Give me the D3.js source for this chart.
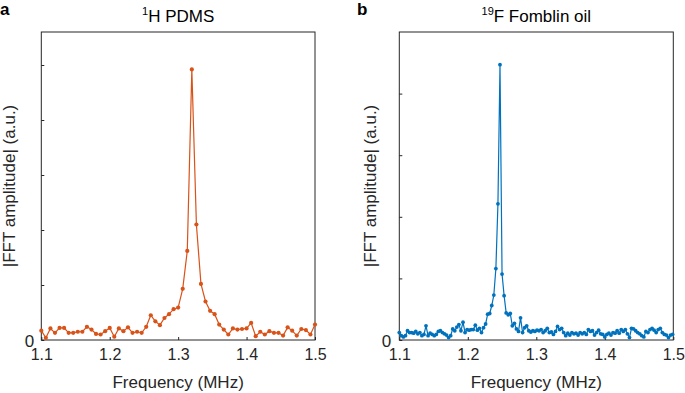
<!DOCTYPE html>
<html lang="en">
<head>
<meta charset="UTF-8">
<title>FFT spectra</title>
<script src="https://d3js.org/d3.v7.min.js"></script>
<style>
  body { margin: 0; background: #fff; }
  svg { display: block; font-family: "Liberation Sans", Arial, Helvetica, sans-serif; }
  .tick text { fill: #262626; }
  .tick line { stroke: #262626; }
</style>
</head>
<body>
<svg id="chart" width="685" height="393"></svg>
<script>

// 1H PDMS, 1.1 - 1.5 MHz
const freqStartH = 1.1;
const freqStepH = 0.4 / 60;
const ampH = [0.17, 0.04, 0.21, 0.13, 0.22, 0.22, 0.13, 0.13, 0.15, 0.15,
              0.24, 0.19, 0.11, 0.10, 0.16, 0.22, 0.06, 0.21, 0.16, 0.23,
              0.13, 0.15, 0.13, 0.24, 0.45, 0.34, 0.27, 0.40, 0.47, 0.56,
              0.59, 0.93, 1.62, 4.92, 2.10, 1.02, 0.70, 0.53, 0.47, 0.28,
              0.19, 0.10, 0.21, 0.19, 0.20, 0.21, 0.31, 0.07, 0.15, 0.10,
              0.16, 0.13, 0.13, 0.08, 0.23, 0.17, 0.08, 0.20, 0.18, 0.10,
              0.28];

// 19F Fomblin oil
const freqStartF = 1.1;
const freqStepF = 0.003;
const ampF = [0.12, 0.07, 0.05, 0.07, 0.15, 0.12, 0.12, 0.11, 0.14, 0.10,
              0.12, 0.07, 0.09, 0.23, 0.07, 0.11, 0.09, 0.07, 0.09, 0.14,
              0.15, 0.12, 0.10, 0.08, 0.04, 0.07, 0.18, 0.15, 0.21, 0.25,
              0.15, 0.29, 0.12, 0.17, 0.16, 0.17, 0.17, 0.24, 0.16, 0.19,
              0.12, 0.20, 0.26, 0.42, 0.43, 0.56, 0.73, 1.16, 2.21, 4.47,
              1.07, 0.72, 0.44, 0.41, 0.43, 0.23, 0.27, 0.18, 0.14, 0.36,
              0.12, 0.20, 0.23, 0.15, 0.13, 0.15, 0.14, 0.16, 0.15, 0.17,
              0.12, 0.15, 0.19, 0.12, 0.13, 0.09, 0.14, 0.22, 0.17, 0.19,
              0.12, 0.07, 0.11, 0.08, 0.12, 0.10, 0.11, 0.08, 0.12, 0.10,
              0.12, 0.09, 0.17, 0.14, 0.15, 0.08, 0.12, 0.16, 0.10, 0.09,
              0.05, 0.09, 0.11, 0.08, 0.12, 0.11, 0.15, 0.11, 0.17, 0.14,
              0.17, 0.10, 0.04, 0.19, 0.18, 0.15, 0.12, 0.10, 0.07, 0.05,
              0.14, 0.12, 0.17, 0.19, 0.16, 0.12, 0.17, 0.19, 0.12, 0.09,
              0.08, 0.04, 0.08, 0.09];

const xTicks = [1.1, 1.2, 1.3, 1.4, 1.5];
const yTicksH = [0, 1, 2, 3, 4, 5];
const yTicksF = [0, 1, 2, 3, 4];

const svg = d3.select('#chart');
const plotTop = 32, plotBottom = 340;

function panel(opts) {
    const data = opts.amp.map((a, i) => ({ f: opts.f0 + i * opts.step, a: a }));
    const x = d3.scaleLinear().domain([1.1, 1.5]).range([opts.left, opts.right]);
    const y = d3.scaleLinear().domain(opts.yDomain).range([plotBottom, plotTop]);
    const g = svg.append('g');

    // y axis (ticks inside, only "0" labelled)
    g.append('g')
        .attr('transform', `translate(${opts.left},0)`)
        .call(d3.axisLeft(y).tickValues(opts.yTicks).tickSize(-3).tickPadding(opts.yPad)
            .tickFormat(d => d === 0 ? '0' : ''))
        .call(a => a.select('.domain').remove())
        .selectAll('text').style('font-size', '17px').attr('dy', '0.36em');

    g.append('g')
        .attr('transform', `translate(0,${plotBottom})`)
        .call(d3.axisBottom(x).tickValues(xTicks).tickSize(-3).tickPadding(9)
            .tickFormat(d3.format('.1f')))
        .call(a => a.select('.domain').remove())
        .selectAll('text').style('font-size', '16px');

    g.append('rect')
        .attr('x', opts.left).attr('y', plotTop)
        .attr('width', opts.right - opts.left).attr('height', plotBottom - plotTop)
        .style('fill', 'none').style('stroke', '#262626').style('stroke-width', 1);

    g.append('path')
        .datum(data)
        .attr('d', d3.line().x(d => x(d.f)).y(d => y(d.a)))
        .style('fill', 'none').style('stroke', opts.color).style('stroke-width', 1.2);

    g.selectAll('circle.pt')
        .data(data)
        .enter()
        .append('circle')
        .attr('class', 'pt')
        .attr('cx', d => x(d.f))
        .attr('cy', d => y(d.a))
        .attr('r', opts.r)
        .style('fill', opts.color);

    // title with superscript
    const t = g.append('text')
        .attr('x', (opts.left + opts.right) / 2).attr('y', 22)
        .attr('text-anchor', 'middle')
        .style('font-size', '17px').style('fill', '#000');
    t.append('tspan').text(opts.sup).style('font-size', '11px').attr('dy', -7);
    t.append('tspan').text(opts.title).attr('dy', 7);

    g.append('text')
        .attr('x', (opts.left + opts.right) / 2).attr('y', 388)
        .attr('text-anchor', 'middle')
        .style('font-size', '17px').style('fill', '#262626')
        .text('Frequency (MHz)');

    g.append('text')
        .attr('transform', `translate(${opts.left - opts.yLabelOff},${(plotTop + plotBottom) / 2}) rotate(-90)`)
        .attr('text-anchor', 'middle')
        .style('font-size', '17px').style('fill', '#262626')
        .text('|FFT amplitude| (a.u.)');

    g.append('text')
        .attr('x', opts.letterX).attr('y', 15)
        .style('font-size', '17px').style('font-weight', 'bold')
        .text(opts.letter);
}

panel({ amp: ampH, f0: freqStartH, step: freqStepH, left: 41.3, right: 315, yDomain: [0, 5.6],
        yTicks: yTicksH, yPad: 7, yLabelOff: 26, color: '#D95319', r: 2.1,
        sup: '1', title: 'H PDMS', letter: 'a', letterX: 0 });

panel({ amp: ampF, f0: freqStartF, step: freqStepF, left: 399.3, right: 673.3, yDomain: [0, 5],
        yTicks: yTicksF, yPad: 8, yLabelOff: 23, color: '#0072BD', r: 1.9,
        sup: '19', title: 'F Fomblin oil', letter: 'b', letterX: 357 });

</script>
</body>
</html>
